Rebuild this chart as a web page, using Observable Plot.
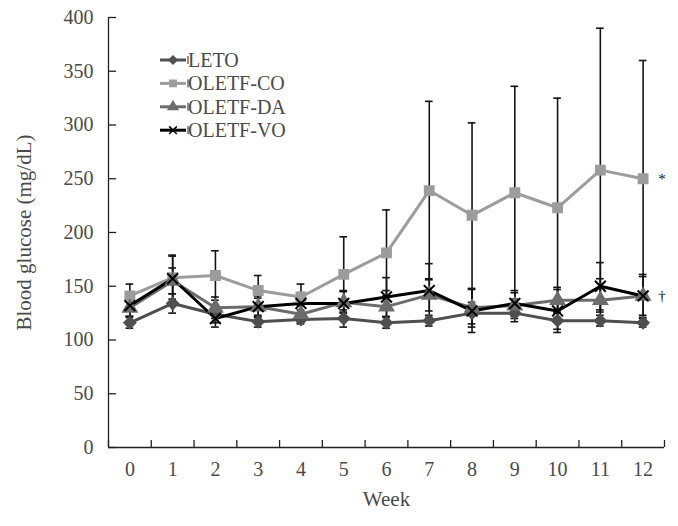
<!DOCTYPE html>
<html>
<head>
<meta charset="utf-8">
<script src="https://cdn.jsdelivr.net/npm/d3@7"></script>
<script src="https://cdn.jsdelivr.net/npm/@observablehq/plot@0.6"></script>
<style>
  body { margin: 0; background: #fff; }
  #wrap { position: relative; width: 678px; height: 526px; }
  #legend { position: absolute; left: 0; top: 0; pointer-events: none; }
</style>
</head>
<body>
<div id="wrap"></div>
<script>
const weeks = [0, 1, 2, 3, 4, 5, 6, 7, 8, 9, 10, 11, 12];
const seriesNames = ["LETO", "OLETF-CO", "OLETF-DA", "OLETF-VO"];
const letoMean = [116, 134, 124, 117, 119, 120, 116, 118, 125, 125, 118, 118, 116];
const letoSD   = [5, 9, 8, 5, 4, 8, 5, 5, 10, 8, 8, 5, 4];
const coMean   = [141, 158, 160, 146, 140, 161, 181, 239, 216, 237, 223, 258, 250];
const coSD     = [11, 20, 23, 14, 12, 35, 40, 83, 86, 99, 102, 132, 110];
const daMean   = [130, 155, 130, 131, 124, 135, 131, 142, 130, 132, 137, 137, 141];
const daSD     = [8, 12, 10, 10, 8, 10, 15, 15, 18, 12, 12, 20, 20];
const voMean   = [132, 157, 120, 131, 134, 134, 140, 146, 127, 134, 127, 150, 141];
const voSD     = [10, 22, 8, 8, 10, 12, 18, 25, 20, 12, 20, 22, 18];
const yTicks = [0, 50, 100, 150, 200, 250, 300, 350, 400];
const annotations = [{series: "OLETF-CO", mark: "*"}, {series: "OLETF-VO", mark: "\u2020"}];

const colors = ["#4f4f4f", "#9c9c9c", "#6c6c6c", "#000000"];
const symbols = ["diamond2", "square", "triangle", "times"];
const font = "'Liberation Serif', 'DejaVu Serif', serif";
const textColor = "#4a4a4a";

const means = [letoMean, coMean, daMean, voMean];
const sds = [letoSD, coSD, daSD, voSD];
const rows = [];
seriesNames.forEach((s, i) => weeks.forEach((w, j) => rows.push({series: s, week: w, mean: means[i][j], sd: sds[i][j]})));
const annRows = annotations.map(a => {
  const i = seriesNames.indexOf(a.series);
  return {week: weeks[weeks.length - 1], mean: means[i][weeks.length - 1], mark: a.mark};
});
const bounds = weeks.map(w => w - 0.5).concat([weeks[weeks.length - 1] + 0.5]);
const capHalf = 0.09;

const chart = Plot.plot({
  width: 678,
  height: 526,
  marginLeft: 108,
  marginRight: 14,
  marginTop: 17,
  marginBottom: 79,
  style: {fontFamily: font, fontSize: "20px", color: textColor, background: "#fff"},
  x: {domain: [-0.5, 12.5], axis: null},
  y: {domain: [0, 400], axis: null},
  color: {domain: seriesNames, range: colors},
  symbol: {domain: seriesNames, range: symbols},
  marks: [
    // axes lines
    Plot.ruleY([0], {stroke: "#222", strokeWidth: 1.3}),
    Plot.ruleX([-0.5], {y1: 0, y2: 400, stroke: "#222", strokeWidth: 1.3}),
    // y ticks (inside)
    Plot.ruleY(yTicks, {x1: -0.5, x2: -0.5 + 0.19, stroke: "#222", strokeWidth: 1.3}),
    // x ticks between categories (inside)
    Plot.ruleX(bounds, {y1: 0, y2: 6.5, stroke: "#222", strokeWidth: 1.3}),
    Plot.axisY(yTicks, {tickSize: 0, tickPadding: 15, label: null, fill: textColor, fontSize: 20}),
    Plot.axisX(weeks, {tickSize: 0, tickPadding: 14, label: null, fill: textColor, fontSize: 20}),
    Plot.text(["Blood glucose (mg/dL)"], {frameAnchor: "left", textAnchor: "middle", rotate: -90, dx: -84, fontSize: 21, fill: textColor}),
    Plot.text(["Week"], {frameAnchor: "bottom", dy: 58, fontSize: 21, fill: textColor}),
    // error bars
    Plot.ruleX(rows, {x: "week", y1: d => d.mean - d.sd, y2: d => d.mean + d.sd, stroke: "#151515", strokeWidth: 1.6}),
    Plot.ruleY(rows, {y: d => d.mean + d.sd, x1: d => d.week - capHalf, x2: d => d.week + capHalf, stroke: "#151515", strokeWidth: 1.6}),
    Plot.ruleY(rows, {y: d => d.mean - d.sd, x1: d => d.week - capHalf, x2: d => d.week + capHalf, stroke: "#151515", strokeWidth: 1.6}),
    // lines
    Plot.line(rows, {x: "week", y: "mean", z: "series", stroke: "series", strokeWidth: 3}),
    Plot.dot(rows, {x: "week", y: "mean", symbol: "series", fill: "series", stroke: "series", r: 5, strokeWidth: 2}),
    // significance marks
    Plot.text(annRows, {x: "week", y: "mean", text: "mark", dx: 19, fontSize: 15, fill: "#111"})
  ]
});

const wrap = document.getElementById("wrap");
wrap.appendChild(chart);

// Legend overlay
const legend = d3.select(wrap).append("svg")
  .attr("id", "legend")
  .attr("width", 678)
  .attr("height", 526);
const lg = legend.selectAll("g").data(seriesNames).join("g")
  .attr("transform", (d, i) => `translate(160, ${60 + i * 23.4})`);
lg.append("line").attr("x1", 0).attr("x2", 26).attr("y1", 0).attr("y2", 0)
  .attr("stroke", (d, i) => colors[i]).attr("stroke-width", 3);
lg.append("line").attr("x1", 28).attr("x2", 28).attr("y1", -4).attr("y2", 4)
  .attr("stroke", "#222").attr("stroke-width", 1);
lg.append("path")
  .attr("transform", "translate(13,0)")
  .attr("d", (d, i) => {
    const sym = {diamond2: d3.symbolDiamond2, square: d3.symbolSquare, triangle: d3.symbolTriangle, times: d3.symbolTimes}[symbols[i]];
    return d3.symbol(sym, 40)();
  })
  .attr("fill", (d, i) => colors[i])
  .attr("stroke", (d, i) => colors[i])
  .attr("stroke-width", 1.5);
lg.append("text").attr("x", 28).attr("y", 0).attr("dy", "0.35em")
  .attr("font-family", font).attr("font-size", 20).attr("fill", textColor)
  .text(d => d);
</script>
</body>
</html>
